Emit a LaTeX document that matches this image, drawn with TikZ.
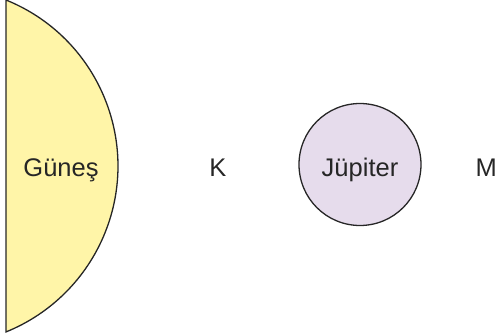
\documentclass[tikz,border=0pt]{standalone}
\usepackage{fontspec}
\setmainfont{Liberation Sans}
\definecolor{sunfill}{HTML}{FFF5A8}
\definecolor{jupfill}{HTML}{E6DCEC}
\begin{document}
\begin{tikzpicture}[x=1pt,y=1pt,
	body/.style={draw=black!85, line width=1.3pt},
	lbl/.style={anchor=base, inner sep=0pt, font=\fontsize{25.5}{30}\selectfont, text=black!85}]
\useasboundingbox (0,0) rectangle (498,335);
% sun
\draw[body, fill=sunfill] (6,335) arc[start angle=68, end angle=-68, radius=179] -- cycle;
% jupiter
\draw[body, fill=jupfill] (360,170.5) circle (61);
% labels
\node[lbl] (gunes) at (61,158) {Güneş};
\node[lbl] (k) at (218,158) {K};
\node[lbl] (jupiter) at (360,158) {Jüpiter};
\node[lbl, anchor=base east] (m) at (497,158) {M};
\end{tikzpicture}
\end{document}
